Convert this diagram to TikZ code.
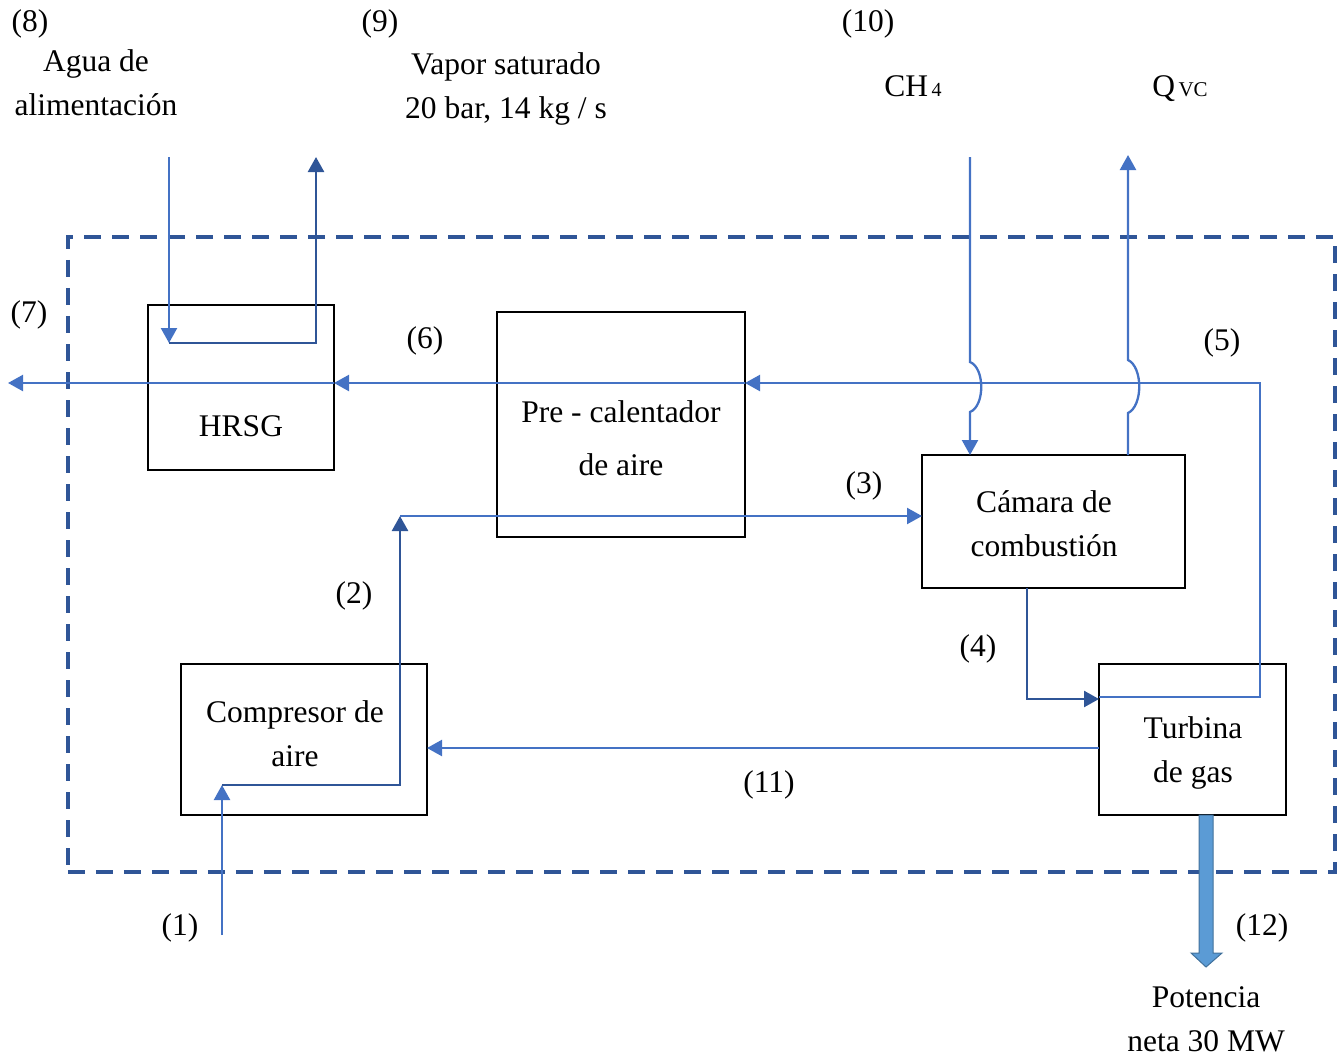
\documentclass[tikz,border=0pt]{standalone}
\usepackage{fontspec}
\setmainfont{Liberation Serif}
\usetikzlibrary{arrows.meta}
\definecolor{flow}{HTML}{4472C4}
\definecolor{deep}{HTML}{2F5597}
\definecolor{shaft}{HTML}{5B9BD5}
\definecolor{shaftedge}{HTML}{41719C}

\begin{document}
\begin{tikzpicture}[x=1bp,y=-1bp,
  txt/.style={font=\fontsize{31.5bp}{44bp}\selectfont, inner sep=0pt, align=center},
  unitbox/.style={draw=black, line width=2.2bp, inner sep=0pt, outer sep=0pt},
  boundary/.style={draw=deep, line width=4bp, dash pattern=on 17bp off 11bp, inner sep=0pt, outer sep=0pt},
  tip/.style={-{Triangle[length=15bp,width=16bp]}},
  fl/.style={draw=flow, line width=2.3bp, tip},
  dl/.style={draw=deep, line width=2.5bp, tip}
]
\useasboundingbox (0,0) rectangle (1340,1059);

% control volume
\node[boundary, minimum width=1267bp, minimum height=635bp] (cv) at (701.5,554.5) {};

% equipment
\node[unitbox, minimum width=186bp, minimum height=165bp] (hrsg) at (241,387.5) {};
\node[unitbox, minimum width=248bp, minimum height=225bp] (pre)  at (621,424.5) {};
\node[unitbox, minimum width=263bp, minimum height=133bp] (cam)  at (1053.5,521.5) {};
\node[unitbox, minimum width=246bp, minimum height=151bp] (comp) at (304,739.5) {};
\node[unitbox, minimum width=187bp, minimum height=151bp] (turb) at (1192.5,739.5) {};

\node[txt] (thrsg) at (241,426) {HRSG};
\node[txt, font=\fontsize{31.5bp}{53bp}\selectfont] (tpre) at (621,438) {Pre - calentador\\de aire};
\node[txt] (tcam)  at (1044,524) {Cámara de\\combustión};
\node[txt] (tcomp) at (295,734) {Compresor de\\aire};
\node[txt] (tturb) at (1193,753) {Turbina\\de gas};

% routing points
\coordinate (in8)  at (169,157);
\coordinate (w1)   at (169,343);
\coordinate (w2)   at (316,343);
\coordinate (out9) at (316,157);
\coordinate (in1)  at (222,935);
\coordinate (c1)   at (222,785);
\coordinate (c2)   at (400,785);
\coordinate (c3)   at (400,516);
\coordinate (y11)  at (0,748);
\coordinate (k4)   at (1027,699);
\coordinate (k5)   at (1260,697);
\coordinate (k5b)  at (1260,383);
\coordinate (out7) at (8,383);
\coordinate (in10) at (970,157);
\coordinate (h1)   at (970,362);
\coordinate (h2)   at (970,412);
\coordinate (q1)   at (1128,413);
\coordinate (q2)   at (1128,360);
\coordinate (outq) at (1128,155);

% feed water and steam
\draw[fl] (in8) -- (w1);
\draw[dl] (w1) -- (w2) -- (out9);

% air through the compressor to the combustion chamber
\draw[fl] (in1) -- (c1);
\draw[dl] (c1) -- (c2) -- (c3);
\draw[fl] (c3) -- (cam.west |- c3);

% recirculation (11)
\draw[fl] (turb.west |- y11) -- (comp.east |- y11);

% combustion gases (4)
\draw[dl] (cam.south -| k4) -- (k4) -- (turb.west |- k4);

% exhaust (5), (6), (7)
\draw[fl] (turb.west |- k5) -- (k5) -- (k5b) -- (pre.east |- k5b);
\draw[fl] (pre.east |- k5b) -- (hrsg.east |- k5b);
\draw[fl] (hrsg.east |- k5b) -- (out7);

% fuel, hopping over the exhaust line
\draw[fl] (in10) -- (h1) .. controls (985,368) and (985,406) .. (h2) -- (cam.north -| h2);

% heat loss, hopping over the exhaust line
\draw[fl] (cam.north -| q1) -- (q1) .. controls (1143,406) and (1143,367) .. (q2) -- (outq);

% shaft power
\draw[fill=shaft, draw=shaftedge, line width=1bp]
  (1199,815) -- (1213,815) -- (1213,953) -- (1222,953) -- (1206,967)
  -- (1191,953) -- (1199,953) -- cycle;

% labels
\node[txt] (l8)  at (30,24)  {(8)};
\node[txt] (l8t) at (96,83)  {Agua de\\alimentación};
\node[txt] (l9)  at (380,24) {(9)};
\node[txt] (l9t) at (506,89) {Vapor saturado\\20 bar, 14 kg / s};
\node[txt] (l10) at (868,24) {(10)};
\node[txt, anchor=base] (lch4) at (913,96) {CH{\fontsize{20bp}{20bp}\selectfont\,4}};
\node[txt, anchor=base] (lq)   at (1180,96) {Q{\fontsize{21bp}{21bp}\selectfont\,VC}};
\node[txt] (l7)  at (29,315)   {(7)};
\node[txt] (l6)  at (425,341)  {(6)};
\node[txt] (l5)  at (1222,343) {(5)};
\node[txt] (l3)  at (864,486)  {(3)};
\node[txt] (l2)  at (354,596)  {(2)};
\node[txt] (l4)  at (978,649)  {(4)};
\node[txt] (l11) at (769,785)  {(11)};
\node[txt] (l1)  at (180,928)  {(1)};
\node[txt] (l12) at (1262,928) {(12)};
\node[txt] (lpot) at (1206,1019) {Potencia\\neta 30 MW};
\end{tikzpicture}
\end{document}
